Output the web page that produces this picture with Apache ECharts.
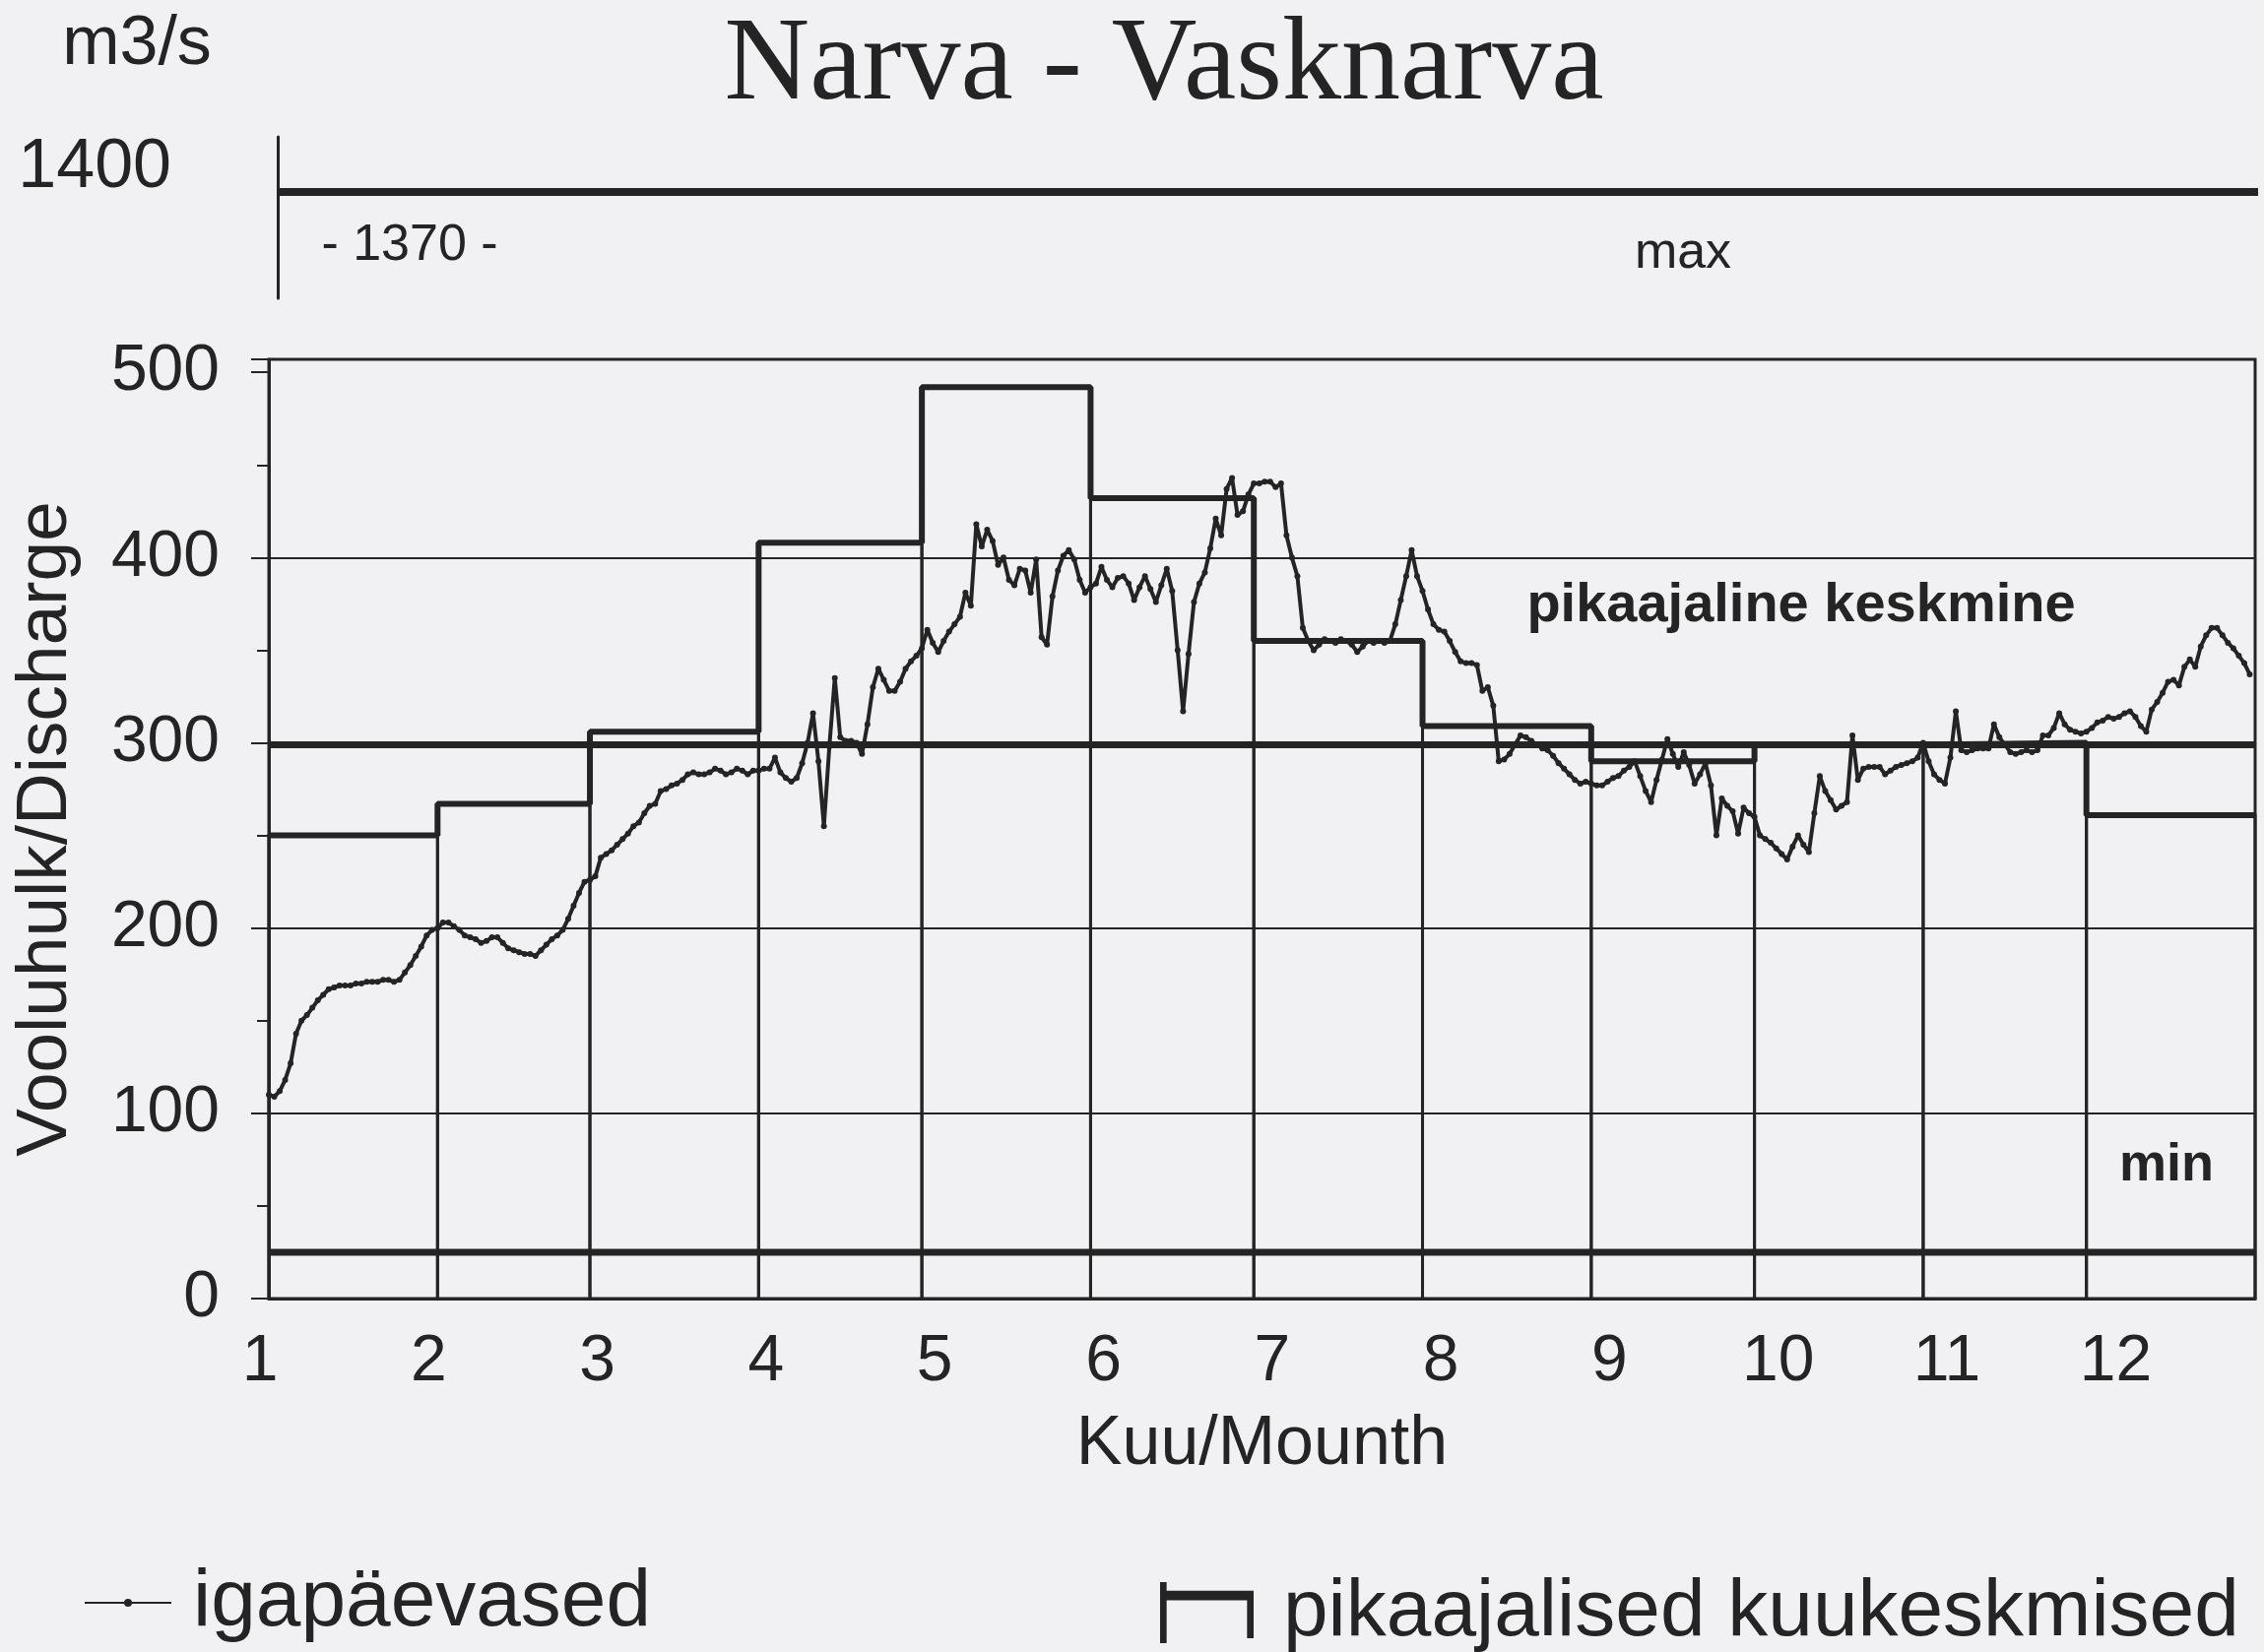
<!DOCTYPE html>
<html>
<head>
<meta charset="utf-8">
<title>Narva - Vasknarva</title>
<script src="https://cdn.jsdelivr.net/npm/echarts@6.0.0/dist/echarts.min.js"></script>
<style>
  html, body { margin: 0; padding: 0; background: #f1f1f3; }
  #chart { width: 2299px; height: 1678px; }
</style>
</head>
<body>
<div id="chart"></div>
<script>
// kuude pikkused (päevi) ja x-telje sildid
var monthDays = [31, 28, 31, 30, 31, 30, 31, 31, 30, 31, 30, 31]
var monthLabels = ['1', '2', '3', '4', '5', '6', '7', '8', '9', '10', '11', '12']
// pikaajalised kuukeskmised, m3/s
var monthMeans = [250, 267, 306, 408, 492, 432, 355, 309, 290, 299, 300, 261]
// pikaajaline keskmine, min ja max
var longTermMean = 299
var minFlow = 25
var maxFlow = 1370

// igapäevased vooluhulgad kuude kaupa
var dJan = [110, 109, 112, 118, 127, 143, 150, 153, 157, 161, 164, 167, 168, 169, 169, 169, 170, 170, 171, 171, 171, 172, 172, 171, 172, 176, 180, 185, 190, 196, 199]
var dFeb = [200, 203, 203, 201, 199, 196, 195, 194, 192, 193, 195, 195, 192, 189, 188, 187, 186, 186, 185, 188, 191, 194, 196, 199, 205, 212, 219, 225]
var dMar = [226, 228, 238, 240, 242, 245, 248, 251, 255, 257, 262, 266, 267, 274, 275, 277, 278, 280, 283, 284, 283, 283, 284, 286, 285, 283, 284, 286, 285, 283, 285]
var dApr = [285, 286, 286, 292, 284, 281, 279, 281, 289, 300, 316, 290, 255, 298, 335, 303, 301, 301, 300, 294, 310, 330, 340, 334, 328, 328, 333, 340, 344, 347]
var dMay = [351, 361, 354, 349, 355, 360, 364, 368, 381, 374, 418, 406, 415, 409, 396, 400, 388, 385, 394, 393, 381, 399, 357, 353, 379, 393, 401, 404, 399, 388, 381]
var dJun = [384, 386, 395, 388, 384, 389, 390, 386, 377, 384, 390, 383, 376, 385, 394, 382, 350, 317, 348, 376, 386, 392, 405, 421, 412, 437, 443, 423, 425, 434]
var dJul = [440, 440, 441, 441, 438, 440, 412, 400, 390, 362, 355, 350, 353, 356, 355, 354, 356, 355, 353, 349, 352, 355, 354, 355, 354, 355, 364, 377, 390, 404, 390]
var dAug = [382, 372, 364, 361, 360, 355, 349, 344, 343, 343, 342, 328, 330, 320, 290, 291, 294, 299, 304, 303, 301, 299, 297, 296, 293, 289, 286, 283, 280, 278, 279]
var dSep = [278, 277, 277, 279, 281, 282, 285, 287, 290, 282, 274, 268, 280, 291, 302, 294, 287, 295, 288, 278, 283, 289, 277, 250, 270, 266, 263, 251, 265, 262]
var dOct = [260, 250, 248, 246, 243, 240, 237, 244, 250, 245, 241, 262, 282, 274, 269, 264, 266, 268, 304, 280, 286, 287, 287, 287, 283, 285, 287, 288, 289, 290, 292]
var dNov = [300, 290, 283, 280, 278, 292, 317, 296, 295, 296, 297, 297, 297, 310, 303, 299, 295, 294, 295, 296, 295, 296, 304, 304, 308, 316, 310, 307, 306, 305]
var dDec = [306, 308, 311, 312, 314, 313, 314, 316, 317, 314, 309, 306, 318, 322, 327, 333, 334, 331, 341, 345, 341, 352, 358, 362, 362, 358, 354, 351, 347, 343, 337]

var ink = '#242424'
var sans = '"Liberation Sans", Arial, sans-serif'

var daily = [].concat(dJan, dFeb, dMar, dApr, dMay, dJun, dJul, dAug, dSep, dOct, dNov, dDec)
var dailyData = daily.map(function (v, i) { return [i, v] })

// kuude algused päevades
var monthStart = []
var acc = 0
monthDays.forEach(function (d) { monthStart.push(acc); acc += d })
var yearDays = acc

var barData = monthMeans.map(function (m, i) { return [monthStart[i], monthStart[i] + monthDays[i], m] })
var stepData = monthMeans.map(function (m, i) { return [monthStart[i], m] })
stepData.push([yearDays, monthMeans[monthMeans.length - 1]])

function label (text, x, y, font) {
  return {
    type: 'text', x: x, y: y,
    style: { text: text, font: font, fill: ink, align: 'center', verticalAlign: 'middle', textAlign: 'center', textVerticalAlign: 'middle' }
  }
}

var chart = echarts.init(document.getElementById('chart'))
chart.setOption({
  backgroundColor: '#f1f1f3',
  animation: false,
  textStyle: { fontFamily: sans, color: ink },
  grid: [
    { left: 273, right: 9, top: 365, height: 954, show: true, borderColor: ink, borderWidth: 3 },
    { left: 282, right: 6, top: 139, height: 164 }
  ],
  xAxis: [{
    type: 'value', gridIndex: 0, min: 0, max: yearDays, interval: 31,
    axisLine: { show: true, lineStyle: { color: ink, width: 3 } },
    axisTick: { show: false },
    splitLine: { show: false },
    axisLabel: {
      color: ink, fontSize: 66, fontFamily: sans, margin: 32, showMaxLabel: false,
      padding: [0, 18, 0, 0],
      formatter: function (v) {
        var k = Math.round(v / 31)
        return (k * 31 === v && k < 12) ? monthLabels[k] : ''
      }
    },
    name: 'Kuu/Mounth', nameLocation: 'middle', nameGap: 114,
    nameTextStyle: { fontSize: 70, color: ink, fontFamily: sans }
  }, {
    type: 'value', gridIndex: 1, min: 0, max: yearDays, show: false
  }],
  yAxis: [{
    type: 'value', gridIndex: 0, min: 0, max: 507, interval: 100,
    axisLine: { show: true, lineStyle: { color: ink, width: 3 } },
    axisTick: { show: true, length: 18, lineStyle: { color: ink, width: 2 } },
    minorTick: { show: true, splitNumber: 2, length: 12, lineStyle: { color: ink, width: 2 } },
    splitLine: { show: true, lineStyle: { color: [ink, ink, ink, ink, ink, 'rgba(0,0,0,0)', ink], width: 2 } },
    axisLabel: { color: ink, fontSize: 66, fontFamily: sans, margin: 50, showMaxLabel: false },
    name: 'Vooluhulk/Discharge', nameLocation: 'middle', nameRotate: 90, nameGap: 190,
    nameTextStyle: { fontSize: 73, color: ink, fontFamily: sans }
  }, {
    type: 'value', gridIndex: 1, min: 1235, max: 1440,
    axisLine: { show: true, lineStyle: { color: ink, width: 3 } },
    axisTick: { show: false },
    splitLine: { show: false },
    axisLabel: {
      color: ink, fontSize: 70, fontFamily: sans, margin: 108, customValues: [1400],
      formatter: function (v) { return String(v) }
    }
  }],
  legend: [{
    data: ['igapäevased'], left: 80, top: 1582, itemWidth: 88, itemHeight: 10,
    textStyle: { fontSize: 82, color: ink, fontFamily: sans, padding: [0, 0, 0, 17] }
  }, {
    data: [{ name: 'pikaajalised kuukeskmised', icon: 'path://M0,0H7V100H0Z M7,14H100V30H7Z M93,30H100V92H93Z' }],
    left: 1173, top: 1592, itemWidth: 95, itemHeight: 62, symbolKeepAspect: false,
    textStyle: { fontSize: 82, color: ink, fontFamily: sans, padding: [0, 0, 0, 25] }
  }],
  graphic: [
    label('Narva - Vasknarva', 1182, 68, '120px "Liberation Serif", "Times New Roman", serif'),
    label('m3/s', 139, 46, '70px ' + sans),
    label('- 1370 -', 416, 250, '52px ' + sans),
    label('max', 1709, 258, '52px ' + sans),
    label('pikaajaline keskmine', 1829, 616, 'bold 56px ' + sans),
    label('min', 2200, 1184, 'bold 54px ' + sans)
  ],
  series: [{
    // kuukeskmiste tulpade piirjooned
    name: 'kuutulbad', type: 'custom', xAxisIndex: 0, yAxisIndex: 0, z: 2, silent: true,
    encode: { x: [0, 1], y: 2 },
    data: barData,
    renderItem: function (params, api) {
      var s = api.value(0), e = api.value(1), m = api.value(2)
      return {
        type: 'polyline',
        shape: { points: [api.coord([s, 0]), api.coord([s, m]), api.coord([e, m]), api.coord([e, 0])] },
        style: { stroke: ink, lineWidth: 3, fill: null }
      }
    }
  }, {
    name: 'pikaajalised kuukeskmised', type: 'line', step: 'end', xAxisIndex: 0, yAxisIndex: 0, z: 3,
    data: stepData, symbol: 'none',
    lineStyle: { color: ink, width: 6 }, itemStyle: { color: ink }
  }, {
    name: 'pikaajaline keskmine', type: 'line', xAxisIndex: 0, yAxisIndex: 0, z: 3, silent: true,
    data: [[0, longTermMean], [yearDays, longTermMean]], symbol: 'none',
    lineStyle: { color: ink, width: 7 }
  }, {
    name: 'min', type: 'line', xAxisIndex: 0, yAxisIndex: 0, z: 3, silent: true,
    data: [[0, minFlow], [yearDays, minFlow]], symbol: 'none',
    lineStyle: { color: ink, width: 7 }
  }, {
    name: 'max', type: 'line', xAxisIndex: 1, yAxisIndex: 1, z: 3, silent: true,
    data: [[0, maxFlow], [yearDays, maxFlow]], symbol: 'none',
    lineStyle: { color: ink, width: 8 }
  }, {
    name: 'igapäevased', type: 'line', xAxisIndex: 0, yAxisIndex: 0, z: 5,
    data: dailyData, symbol: 'circle', symbolSize: 6, showSymbol: true,
    lineStyle: { color: ink, width: 4 }, itemStyle: { color: ink }
  }]
})
</script>
</body>
</html>
